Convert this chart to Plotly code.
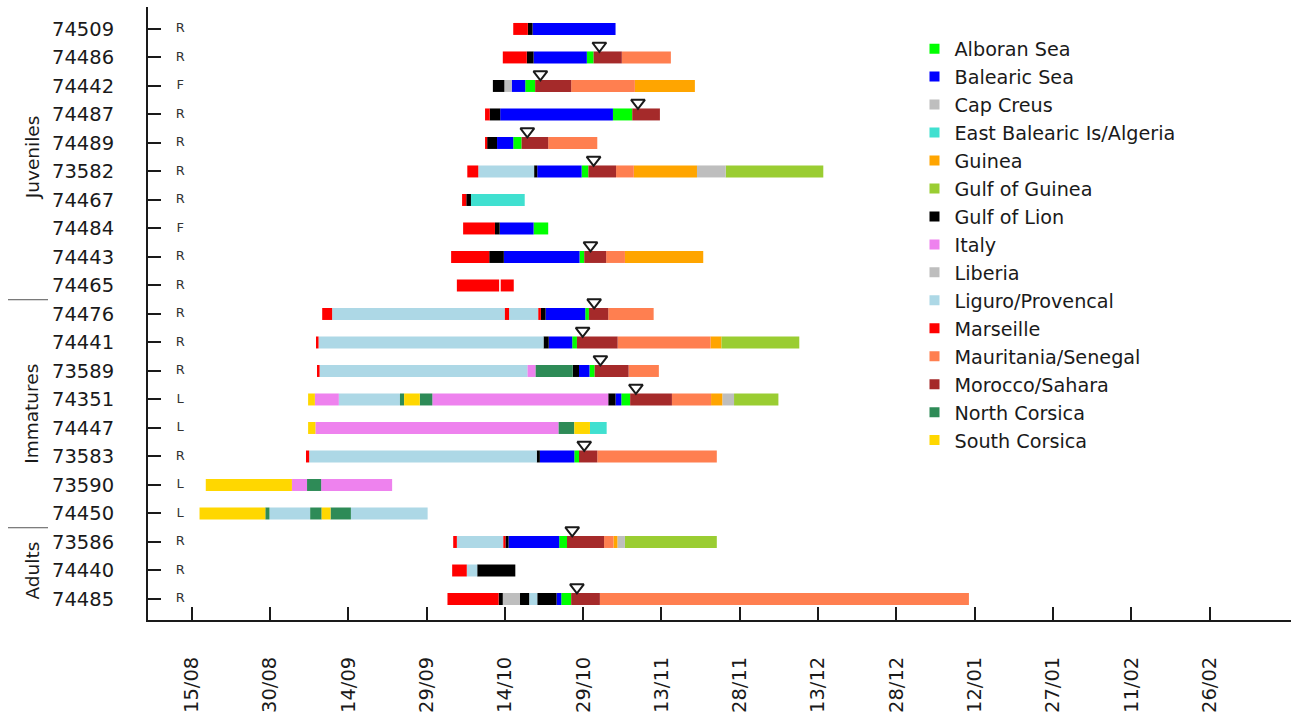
import plotly.graph_objects as go

# Individuals, top to bottom
bird_ids = ["74509", "74486", "74442", "74487", "74489", "73582", "74467", "74484",
            "74443", "74465", "74476", "74441", "73589", "74351", "74447", "73583",
            "73590", "74450", "73586", "74440", "74485"]
release_type = ["R", "R", "F", "R", "R", "R", "R", "F", "R", "R",
                "R", "R", "R", "L", "L", "R", "L", "L", "R", "R", "R"]
age_groups = [("Juveniles", 0, 9), ("Immatures", 10, 17), ("Adults", 18, 20)]

# Zones and their colours (legend order)
zones = ["Alboran Sea", "Balearic Sea", "Cap Creus", "East Balearic Is/Algeria", "Guinea",
         "Gulf of Guinea", "Gulf of Lion", "Italy", "Liberia", "Liguro/Provencal",
         "Marseille", "Mauritania/Senegal", "Morocco/Sahara", "North Corsica", "South Corsica"]
zone_colors = ["#00FF00", "#0000FF", "#BEBEBE", "#40E0D0", "#FFA500",
               "#9ACD32", "#000000", "#EE82EE", "#BEBEBE", "#ADD8E6",
               "#FF0000", "#FF7F50", "#A52A2A", "#2E8B57", "#FFD700"]

# Date axis: days after 15 August
tick_days = [0, 15, 30, 45, 60, 75, 90, 105, 120, 135, 150, 165, 180, 195]
tick_labels = ["15/08", "30/08", "14/09", "29/09", "14/10", "29/10", "13/11", "28/11",
               "13/12", "28/12", "12/01", "27/01", "11/02", "26/02"]

# Track of each bird: breakpoints (days) and the zone occupied between them (None = no data)
days_74509 = [61.6, 64.4, 65.3, 81.2]
zone_74509 = ["Marseille", "Gulf of Lion", "Balearic Sea"]
days_74486 = [59.6, 64.2, 65.5, 75.7, 77.0, 82.4, 91.8]
zone_74486 = ["Marseille", "Gulf of Lion", "Balearic Sea", "Alboran Sea", "Morocco/Sahara", "Mauritania/Senegal"]
days_74442 = [57.7, 59.9, 61.3, 63.9, 65.8, 72.7, 84.9, 96.4]
zone_74442 = ["Gulf of Lion", "Cap Creus", "Balearic Sea", "Alboran Sea", "Morocco/Sahara", "Mauritania/Senegal", "Guinea"]
days_74487 = [56.2, 57.1, 59.1, 80.7, 84.4, 89.7]
zone_74487 = ["Marseille", "Gulf of Lion", "Balearic Sea", "Alboran Sea", "Morocco/Sahara"]
days_74489 = [56.2, 56.6, 58.5, 61.6, 63.2, 68.3, 77.7]
zone_74489 = ["Marseille", "Gulf of Lion", "Balearic Sea", "Alboran Sea", "Morocco/Sahara", "Mauritania/Senegal"]
days_73582 = [52.8, 54.9, 65.6, 66.2, 74.7, 76.0, 81.3, 84.7, 96.8, 102.3, 121.0]
zone_73582 = ["Marseille", "Liguro/Provencal", "Gulf of Lion", "Balearic Sea", "Alboran Sea", "Morocco/Sahara",
              "Mauritania/Senegal", "Guinea", "Liberia", "Gulf of Guinea"]
days_74467 = [51.8, 52.6, 53.5, 63.8]
zone_74467 = ["Marseille", "Gulf of Lion", "East Balearic Is/Algeria"]
days_74484 = [52.0, 58.1, 59.0, 65.5, 68.3]
zone_74484 = ["Marseille", "Gulf of Lion", "Balearic Sea", "Alboran Sea"]
days_74443 = [49.7, 57.0, 59.8, 74.3, 75.2, 79.4, 83.0, 98.0]
zone_74443 = ["Marseille", "Gulf of Lion", "Balearic Sea", "Alboran Sea", "Morocco/Sahara", "Mauritania/Senegal", "Guinea"]
days_74465 = [50.8, 58.9, 59.2, 61.7]
zone_74465 = ["Marseille", None, "Marseille"]
days_74476 = [25.0, 26.9, 60.0, 60.8, 66.4, 66.9, 67.8, 75.4, 76.1, 79.8, 88.5]
zone_74476 = ["Marseille", "Liguro/Provencal", "Marseille", "Liguro/Provencal", "Marseille", "Gulf of Lion",
              "Balearic Sea", "Alboran Sea", "Morocco/Sahara", "Mauritania/Senegal"]
days_74441 = [24.0, 24.3, 67.4, 68.4, 72.9, 73.8, 81.6, 99.4, 101.5, 116.4]
zone_74441 = ["Marseille", "Liguro/Provencal", "Gulf of Lion", "Balearic Sea", "Alboran Sea", "Morocco/Sahara",
              "Mauritania/Senegal", "Guinea", "Gulf of Guinea"]
days_73589 = [24.0, 24.5, 64.3, 65.9, 73.0, 74.2, 76.2, 77.2, 83.7, 89.5]
zone_73589 = ["Marseille", "Liguro/Provencal", "Italy", "North Corsica", "Gulf of Lion", "Balearic Sea",
              "Alboran Sea", "Morocco/Sahara", "Mauritania/Senegal"]
days_74351 = [22.3, 23.6, 28.2, 39.9, 40.7, 43.7, 46.1, 79.8, 81.2, 82.3, 84.0, 92.0, 99.5, 101.7, 103.9, 112.4]
zone_74351 = ["South Corsica", "Italy", "Liguro/Provencal", "North Corsica", "South Corsica", "North Corsica",
              "Italy", "Gulf of Lion", "Balearic Sea", "Alboran Sea", "Morocco/Sahara", "Mauritania/Senegal",
              "Guinea", "Liberia", "Gulf of Guinea"]
days_74447 = [22.3, 23.7, 70.3, 73.3, 76.3, 79.5]
zone_74447 = ["South Corsica", "Italy", "North Corsica", "South Corsica", "East Balearic Is/Algeria"]
days_73583 = [21.9, 22.5, 66.1, 66.7, 73.3, 74.2, 77.7, 100.6]
zone_73583 = ["Marseille", "Liguro/Provencal", "Gulf of Lion", "Balearic Sea", "Alboran Sea", "Morocco/Sahara",
              "Mauritania/Senegal"]
days_73590 = [2.7, 19.2, 22.1, 24.8, 38.4]
zone_73590 = ["South Corsica", "Italy", "North Corsica", "Italy"]
days_74450 = [1.5, 14.1, 14.9, 22.7, 24.9, 26.6, 30.5, 45.2]
zone_74450 = ["South Corsica", "North Corsica", "Liguro/Provencal", "North Corsica", "South Corsica",
              "North Corsica", "Liguro/Provencal"]
days_73586 = [50.1, 50.8, 59.7, 60.1, 60.7, 70.4, 71.9, 79.0, 80.8, 81.6, 83.0, 100.6]
zone_73586 = ["Marseille", "Liguro/Provencal", "Marseille", "Gulf of Lion", "Balearic Sea", "Alboran Sea",
              "Morocco/Sahara", "Mauritania/Senegal", "Guinea", "Liberia", "Gulf of Guinea"]
days_74440 = [49.9, 52.7, 54.7, 62.0]
zone_74440 = ["Marseille", "Liguro/Provencal", "Gulf of Lion"]
days_74485 = [49.0, 58.8, 59.6, 62.9, 64.7, 66.2, 69.9, 70.8, 72.7, 78.2, 148.9]
zone_74485 = ["Marseille", "Gulf of Lion", "Cap Creus", "Gulf of Lion", "Liguro/Provencal", "Gulf of Lion",
              "Balearic Sea", "Alboran Sea", "Morocco/Sahara", "Mauritania/Senegal"]

# Day of the sea crossing marker (None = no crossing)
crossing_day = [None, 78.1, 66.8, 85.5, 64.3, 77.0, None, None, 76.4, None,
                77.1, 74.9, 78.3, 85.1, None, 75.2, None, None, 72.9, None, 73.8]

track_days = [days_74509, days_74486, days_74442, days_74487, days_74489, days_73582, days_74467,
              days_74484, days_74443, days_74465, days_74476, days_74441, days_73589, days_74351,
              days_74447, days_73583, days_73590, days_74450, days_73586, days_74440, days_74485]
track_zones = [zone_74509, zone_74486, zone_74442, zone_74487, zone_74489, zone_73582, zone_74467,
               zone_74484, zone_74443, zone_74465, zone_74476, zone_74441, zone_73589, zone_74351,
               zone_74447, zone_73583, zone_73590, zone_74450, zone_73586, zone_74440, zone_74485]

FONT = "DejaVu Sans"
INK = "#1a1a1a"
n = len(bird_ids)
row_y = [n - 1 - i for i in range(n)]

fig = go.Figure()

# Segments grouped by zone so each zone is one bar trace
for zone, color in zip(zones, zone_colors):
    ys, bases, lengths = [], [], []
    for i in range(n):
        d, z = track_days[i], track_zones[i]
        for k, name in enumerate(z):
            if name == zone:
                ys.append(row_y[i])
                bases.append(d[k])
                lengths.append(d[k + 1] - d[k])
    if ys:
        fig.add_trace(go.Bar(
            orientation="h", y=ys, x=lengths, base=bases, width=0.42,
            marker=dict(color=color, line=dict(width=0)),
            showlegend=False, hoverinfo="skip"))

# Legend entries
for zone, color in zip(zones, zone_colors):
    fig.add_trace(go.Scatter(
        x=[None], y=[None], mode="markers", name=zone,
        marker=dict(symbol="square", size=10, color=color)))

# Crossing markers above the bars
cx = [c for c in crossing_day if c is not None]
cy = [row_y[i] + 0.41 for i, c in enumerate(crossing_day) if c is not None]
fig.add_trace(go.Scatter(
    x=cx, y=cy, mode="markers", showlegend=False, hoverinfo="skip",
    marker=dict(symbol="triangle-down-open", size=12, color=INK, line=dict(width=2, color=INK))))

# Release type letters
fig.add_trace(go.Scatter(
    x=[-2.2] * n, y=row_y, mode="text", text=release_type, showlegend=False, hoverinfo="skip",
    textposition="middle center", textfont=dict(family=FONT, size=13, color="#333333")))

# Age group labels and separators
L, W = 148, 1143
for name, i0, i1 in age_groups:
    fig.add_annotation(
        text=name, textangle=-90, xref="paper", x=(32 - L) / W, yref="y",
        y=(row_y[i0] + row_y[i1]) / 2, showarrow=False, xanchor="center", yanchor="middle",
        font=dict(family=FONT, size=18.5, color=INK))
for _, i0, _ in age_groups[1:]:
    fig.add_shape(type="line", xref="paper", yref="y",
                  x0=(8 - L) / W, x1=(48 - L) / W, y0=row_y[i0] + 0.5, y1=row_y[i0] + 0.5,
                  line=dict(color="#555555", width=1))

fig.update_layout(
    width=1291, height=719,
    margin=dict(l=L, r=0, t=7, b=99),
    plot_bgcolor="white", paper_bgcolor="white",
    barmode="overlay",
    legend=dict(x=0.6706, y=0.963, xanchor="left", yanchor="top",
                font=dict(family=FONT, size=19.2, color=INK), bgcolor="rgba(0,0,0,0)"),
    xaxis=dict(range=[-8.37, 210.6], tickvals=tick_days, ticktext=tick_labels, tickangle=-90,
               ticks="inside", ticklen=13, tickwidth=2, tickcolor=INK,
               showline=True, linewidth=2, linecolor=INK, showgrid=False, zeroline=False,
               ticklabelstandoff=27, tickfont=dict(family=FONT, size=19.5, color=INK),
               automargin=False),
    yaxis=dict(range=[-0.737, 20.77], tickvals=row_y, ticktext=bird_ids,
               ticks="inside", ticklen=13, tickwidth=2, tickcolor=INK,
               showline=True, linewidth=2, linecolor=INK, showgrid=False, zeroline=False,
               ticklabelstandoff=28, tickfont=dict(family=FONT, size=19.5, color=INK),
               automargin=False),
)

fig.write_html("out.html")
